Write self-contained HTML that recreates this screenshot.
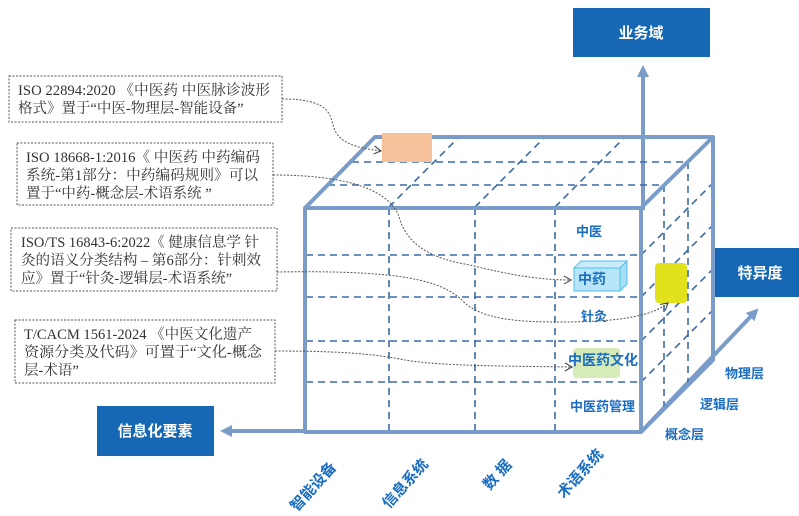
<!DOCTYPE html>
<html><head><meta charset="utf-8"><style>
html,body{margin:0;padding:0;background:#fff;}
svg{display:block;}
.cn{font-family:"Liberation Sans","Noto Sans CJK SC",sans-serif;font-weight:bold;}
.bx{font-family:"Liberation Serif","Noto Serif CJK SC",serif;font-size:14.5px;fill:#333;}
</style></head><body>
<svg width="799" height="516" viewBox="0 0 799 516" xmlns="http://www.w3.org/2000/svg">
<defs>
<marker id="ah" markerWidth="10" markerHeight="10" refX="8" refY="5" orient="auto" markerUnits="userSpaceOnUse"><path d="M1,1 L8,5 L1,9" fill="none" stroke="#333" stroke-width="1"/></marker>
<marker id="bh" markerWidth="14" markerHeight="14" refX="7" refY="7" orient="auto" markerUnits="userSpaceOnUse"><path d="M0,1 L12,7 L0,13 Z" fill="#7a9cc8"/></marker>
</defs>
<line x1="643" y1="210" x2="643" y2="70" stroke="#7a9cc8" stroke-width="4" marker-end="url(#bh)"/>
<line x1="305" y1="431" x2="225" y2="431" stroke="#7a9cc8" stroke-width="4" marker-end="url(#bh)"/>
<line x1="641" y1="432" x2="755" y2="312" stroke="#7a9cc8" stroke-width="4" marker-end="url(#bh)"/>
<rect x="573" y="8" width="137" height="49" fill="#1668b4"/>
<text x="641" y="38" class="cn" font-size="15" fill="#fff" text-anchor="middle">业务域</text>
<rect x="715" y="248" width="84" height="49" fill="#1668b4"/>
<text x="760" y="278" class="cn" font-size="15" fill="#fff" text-anchor="middle">特异度</text>
<rect x="97" y="406" width="117" height="50" fill="#1668b4"/>
<text x="155" y="436" class="cn" font-size="15" fill="#fff" text-anchor="middle">信息化要素</text>
<g stroke="#3d6aa6" stroke-width="1.6" stroke-dasharray="7,5" fill="none">
<line x1="389" y1="208" x2="389" y2="430"/><line x1="475" y1="208" x2="475" y2="430"/><line x1="555" y1="208" x2="555" y2="430"/>
<line x1="306" y1="255" x2="640" y2="255"/><line x1="306" y1="297" x2="640" y2="297"/><line x1="306" y1="341" x2="640" y2="341"/><line x1="306" y1="382" x2="640" y2="382"/>
<line x1="328" y1="185" x2="664" y2="185"/><line x1="352" y1="162" x2="688" y2="162"/>
<line x1="389" y1="207" x2="459" y2="137"/><line x1="475" y1="207" x2="545" y2="137"/><line x1="555" y1="207" x2="625" y2="137"/>
<line x1="664" y1="185" x2="664" y2="410"/><line x1="688" y1="162" x2="688" y2="385"/>
<line x1="641" y1="255" x2="713" y2="183"/><line x1="641" y1="297" x2="713" y2="225"/><line x1="641" y1="341" x2="713" y2="269"/><line x1="641" y1="382" x2="713" y2="310"/>
</g>
<g stroke="#7a9cc8" stroke-width="4" fill="none" stroke-linejoin="round">
<rect x="305" y="208" width="336" height="224"/>
<polyline points="305,208 375,137 713,137 641,208"/>
<polyline points="713,137 713,360 641,432"/>
</g>
<rect x="382" y="133" width="50" height="29" fill="#f6c09a"/>
<g>
<polygon points="574,268 581,261 627,261 620,268" fill="#c8ecfa" stroke="#4fc0ec"/>
<polygon points="620,268 627,261 627,284 620,291" fill="#a6def5" stroke="#4fc0ec"/>
<rect x="574" y="268" width="46" height="23" fill="#b8e6f8" stroke="#4fc0ec"/>
</g>
<rect x="573" y="348" width="47" height="30" rx="4" fill="#d6ebb8"/>
<rect x="655" y="263" width="32" height="40" rx="4" fill="#e2e21c"/>
<g class="cn" fill="#1a6dc0" font-size="13">
<text x="576" y="236">中医</text>
<text x="578" y="284" font-size="14">中药</text>
<text x="581" y="321">针灸</text>
<text x="568" y="365" font-size="14">中医药文化</text>
<text x="570" y="411">中医药管理</text>
<text x="725" y="378">物理层</text>
<text x="700" y="409">逻辑层</text>
<text x="665" y="439">概念层</text>
</g>
<g class="cn" fill="#1a6dc0" font-size="15" text-anchor="middle">
<text transform="translate(317,490) rotate(-48)">智能设备</text>
<text transform="translate(409,487) rotate(-48)">信息系统</text>
<text transform="translate(501,478) rotate(-48)">数 据</text>
<text transform="translate(584,477) rotate(-48)">术语系统</text>
</g>
<g stroke="#555" stroke-width="1" stroke-dasharray="2,1.5" fill="none">
<path d="M282,99 C330,99 330,115 333,125 C338,145 360,148 381,151" marker-end="url(#ah)"/>
<path d="M273,175 C370,175 395,200 400,220 C410,250 440,260 470,265 C510,275 540,280 571,280" marker-end="url(#ah)"/>
<path d="M277,272 C400,270 440,280 462,300 C480,320 520,322 560,322 C610,322 650,318 668,303" marker-end="url(#ah)"/>
<path d="M275,351 C350,351 380,355 405,360 C440,366 500,366 572,367" marker-end="url(#ah)"/>
</g>
<g fill="#fff" stroke="#555" stroke-width="1" stroke-dasharray="2,1.5">
<rect x="9" y="76" width="273" height="46"/>
<rect x="17" y="143" width="256" height="62"/>
<rect x="11" y="228" width="266" height="63"/>
<rect x="15" y="320" width="260" height="63"/>
</g>
<g class="bx">
<text x="18" y="95" textLength="252" lengthAdjust="spacingAndGlyphs">ISO 22894:2020 《中医药 中医脉诊波形</text>
<text x="18" y="113">格式》置于“中医-物理层-智能设备”</text>
<text x="26" y="162" textLength="234" lengthAdjust="spacingAndGlyphs">ISO 18668-1:2016《 中医药 中药编码</text>
<text x="26" y="180" textLength="232" lengthAdjust="spacingAndGlyphs">系统-第1部分：中药编码规则》可以</text>
<text x="26" y="198">置于“中药-概念层-术语系统 ”</text>
<text x="21" y="247" textLength="238" lengthAdjust="spacingAndGlyphs">ISO/TS 16843-6:2022《 健康信息学 针</text>
<text x="21" y="265" textLength="240" lengthAdjust="spacingAndGlyphs">灸的语义分类结构 – 第6部分：针刺效</text>
<text x="21" y="283">应》置于“针灸-逻辑层-术语系统”</text>
<text x="24" y="339" textLength="228" lengthAdjust="spacingAndGlyphs">T/CACM 1561-2024 《中医文化遗产</text>
<text x="24" y="357" textLength="238" lengthAdjust="spacingAndGlyphs">资源分类及代码》可置于“文化-概念</text>
<text x="24" y="375">层-术语”</text>
</g>
</svg>
</body></html>
